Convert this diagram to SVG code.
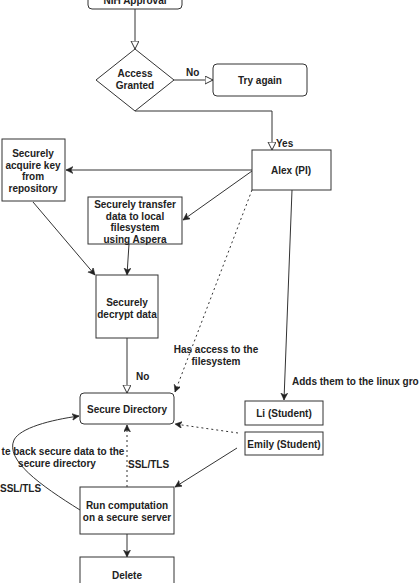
<svg xmlns="http://www.w3.org/2000/svg" width="419" height="583" viewBox="0 0 419 583">
<style>
.b{fill:#fff;stroke:#333;stroke-width:1}
.t{font-family:"Liberation Sans",Arial,sans-serif;font-size:10px;font-weight:bold;fill:#222;text-anchor:middle}
.l{font-family:"Liberation Sans",Arial,sans-serif;font-size:10px;font-weight:bold;fill:#222}
.c{fill:none;stroke:#333;stroke-width:1}
.d{stroke-dasharray:2 3}
</style>
<defs>
<marker id="h" markerWidth="10" markerHeight="10" refX="8" refY="4" orient="auto" markerUnits="userSpaceOnUse"><path d="M0,0 L8,4 L0,8 Z" fill="#fff" stroke="#333" stroke-width="1"/></marker>
<marker id="f" markerWidth="10" markerHeight="10" refX="7" refY="3.5" orient="auto" markerUnits="userSpaceOnUse"><path d="M0,0 L7,3.5 L0,7 L2,3.5 Z" fill="#222" stroke="#222" stroke-width="0.5"/></marker>
</defs>
<rect width="419" height="583" fill="#fff"/>
<g id="connectors">
<path class="c" d="M135,9 V49" marker-end="url(#h)"/>
<path class="c" d="M174,80 H213" marker-end="url(#h)"/>
<path class="c" d="M135,111 H272 V150" marker-end="url(#h)"/>
<path class="c" d="M252,170 H66" marker-end="url(#f)"/>
<path class="c" d="M252,171 L183,220" marker-end="url(#f)"/>
<path class="c" d="M33,202 L95,275" marker-end="url(#f)"/>
<path class="c" d="M129,244 L127,275" marker-end="url(#f)"/>
<path class="c" d="M127,338 V393" marker-end="url(#h)"/>
<path class="c d" d="M252,190 L175,392" marker-end="url(#f)"/>
<path class="c" d="M292,190 L284,400" marker-end="url(#f)"/>
<path class="c d" d="M238,433 L175,424" marker-end="url(#f)"/>
<path class="c" d="M237,448 L175,487" marker-end="url(#f)"/>
<path class="c d" d="M127,487 V425" marker-end="url(#f)"/>
<path class="c" d="M80,510 C40,485 5,460 14,440 C20,428 50,420 79,416" marker-end="url(#f)"/>
<path class="c" d="M127,534 V557" marker-end="url(#f)"/>
<text class="l" x="186" y="76">No</text>
<text class="l" x="276" y="147">Yes</text>
<text class="l" x="136" y="380">No</text>
<text class="t" x="216" y="353">Has access to the</text>
<text class="t" x="216" y="365">filesystem</text>
<text class="l" x="292" y="385">Adds them to the linux gro</text>
<text class="t" x="63" y="455">te back secure data to the</text>
<text class="t" x="57" y="467">secure directory</text>
<text class="l" x="0" y="492">SSL/TLS</text>
<text class="l" x="128" y="468">SSL/TLS</text>
</g>
<g id="nih"><rect class="b" x="88" y="-20" width="94" height="29" rx="4"/><text class="t" x="135" y="4">NIH Approval</text></g>
<g id="access"><path class="b" d="M135,49 L174,80 L135,111 L96,80 Z"/><text class="t" x="135" y="77">Access</text><text class="t" x="135" y="89">Granted</text></g>
<g id="try"><rect class="b" x="213" y="64" width="94" height="32" rx="4"/><text class="t" x="260" y="84">Try again</text></g>
<g id="alex"><rect class="b" x="252" y="150" width="79" height="40"/><text class="t" x="291" y="174">Alex (PI)</text></g>
<g id="key"><rect class="b" x="2" y="139" width="63" height="62"/><text class="t" x="33" y="157">Securely</text><text class="t" x="33" y="169">acquire key</text><text class="t" x="33" y="180">from</text><text class="t" x="33" y="192">repository</text></g>
<g id="transfer"><rect class="b" x="88" y="197" width="94" height="47"/><text class="t" x="135" y="208">Securely transfer</text><text class="t" x="135" y="220">data to local</text><text class="t" x="135" y="231">filesystem</text><text class="t" x="135" y="243">using Aspera</text></g>
<g id="decrypt"><rect class="b" x="96" y="275" width="62" height="63"/><text class="t" x="127" y="306">Securely</text><text class="t" x="127" y="318">decrypt data</text></g>
<g id="securedir"><rect class="b" x="80" y="393" width="94" height="31" rx="4"/><text class="t" x="127" y="413">Secure Directory</text></g>
<g id="li"><rect class="b" x="245" y="401" width="78" height="24"/><text class="t" x="284" y="417">Li (Student)</text></g>
<g id="emily"><rect class="b" x="245" y="432" width="78" height="23"/><text class="t" x="284" y="448">Emily (Student)</text></g>
<g id="run"><rect class="b" x="80" y="487" width="94" height="47"/><text class="t" x="127" y="509">Run computation</text><text class="t" x="127" y="521">on a secure server</text></g>
<g id="delete"><rect class="b" x="80" y="557" width="94" height="40"/><text class="t" x="127" y="579">Delete</text></g>
</svg>
